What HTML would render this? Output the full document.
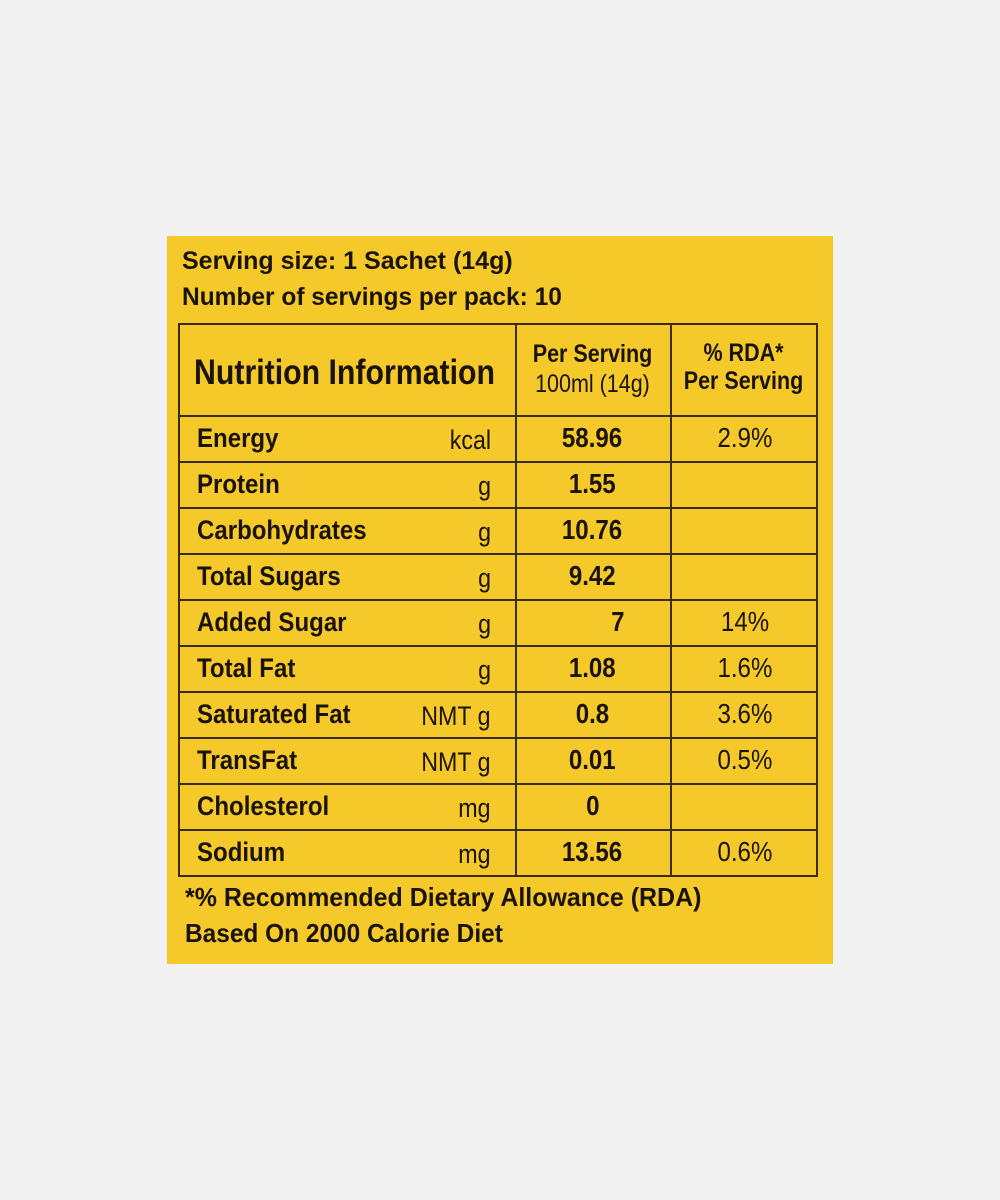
<!DOCTYPE html>
<html><head><meta charset="utf-8"><style>
html,body{margin:0;padding:0}
body{width:1000px;height:1200px;background:#f1f1f1;position:relative;overflow:hidden;font-family:"Liberation Sans",sans-serif;color:#1a1408}
#card{position:absolute;left:167px;top:236px;width:666px;height:728px;background:#f6c92a}
.a{position:absolute;white-space:nowrap;transform-origin:0 50%}
.b{font-weight:bold}
.c{position:absolute;text-align:center;white-space:nowrap}
.c span{display:inline-block;transform:scaleX(.86)}
.hl{position:absolute;height:1.5px;background:#3a2c0a;left:178px;width:639px}
.vl{position:absolute;width:1.5px;background:#3a2c0a;top:323px;height:554px}
</style></head><body>
<div id="card"></div>
<div class="a b" style="left:182px;top:247px;font-size:25px;transform:scaleX(1.0)">Serving size: 1 Sachet (14g)</div>
<div class="a b" style="left:182px;top:283px;font-size:25px;transform:scaleX(0.98)">Number of servings per pack: 10</div>

<div class="hl" style="top:323px"></div>
<div class="hl" style="top:415px"></div>
<div class="hl" style="top:461px"></div>
<div class="hl" style="top:507px"></div>
<div class="hl" style="top:553px"></div>
<div class="hl" style="top:599px"></div>
<div class="hl" style="top:645px"></div>
<div class="hl" style="top:691px"></div>
<div class="hl" style="top:737px"></div>
<div class="hl" style="top:783px"></div>
<div class="hl" style="top:829px"></div>
<div class="hl" style="top:875px"></div>
<div class="vl" style="left:178px"></div>
<div class="vl" style="left:515px"></div>
<div class="vl" style="left:670px"></div>
<div class="vl" style="left:816px"></div>

<div class="a b" style="left:194px;top:353px;font-size:35px;transform:scaleX(.865)">Nutrition Information</div>
<div class="c" style="left:515px;width:155px;top:339px;font-size:25px;line-height:30px"><span><b>Per Serving</b><br>100ml (14g)</span></div>
<div class="c b" style="left:670px;width:146px;top:339px;font-size:25px;line-height:28px"><span>% RDA*<br>Per Serving</span></div>

<div id="rows"></div>
<script>
var r=[["Energy","kcal","58.96","2.9%"],["Protein","g","1.55",""],["Carbohydrates","g","10.76",""],["Total Sugars","g","9.42",""],["Added Sugar","g","7","14%"],["Total Fat","g","1.08","1.6%"],["Saturated Fat","NMT g","0.8","3.6%"],["TransFat","NMT g","0.01","0.5%"],["Cholesterol","mg","0",""],["Sodium","mg","13.56","0.6%"]];
var h="";
r.forEach(function(x,i){var t=415+i*46;
h+='<div class="a b" style="left:197px;top:'+t+'px;line-height:46px;font-size:27px;transform:scaleX(.89)">'+x[0]+'</div>';
h+='<div class="a" style="right:509px;top:'+(t+2)+'px;line-height:46px;font-size:27px;transform-origin:100% 50%;transform:scaleX(.86)">'+x[1]+'</div>';
var vl=x[2]=="7"?'left:540px;width:155px':'left:515px;width:155px';
h+='<div class="c b" style="'+vl+';top:'+t+'px;line-height:46px;font-size:28px"><span>'+x[2]+'</span></div>';
h+='<div class="c" style="left:672px;width:146px;top:'+t+'px;line-height:46px;font-size:28px"><span>'+x[3]+'</span></div>';
});
document.getElementById("rows").innerHTML=h;
</script>
<div class="a b" style="left:185px;top:882px;font-size:26px;transform:scaleX(.96)">*% Recommended Dietary Allowance (RDA)</div>
<div class="a b" style="left:185px;top:918px;font-size:26px;transform:scaleX(.94)">Based On 2000 Calorie Diet</div>
</body></html>
